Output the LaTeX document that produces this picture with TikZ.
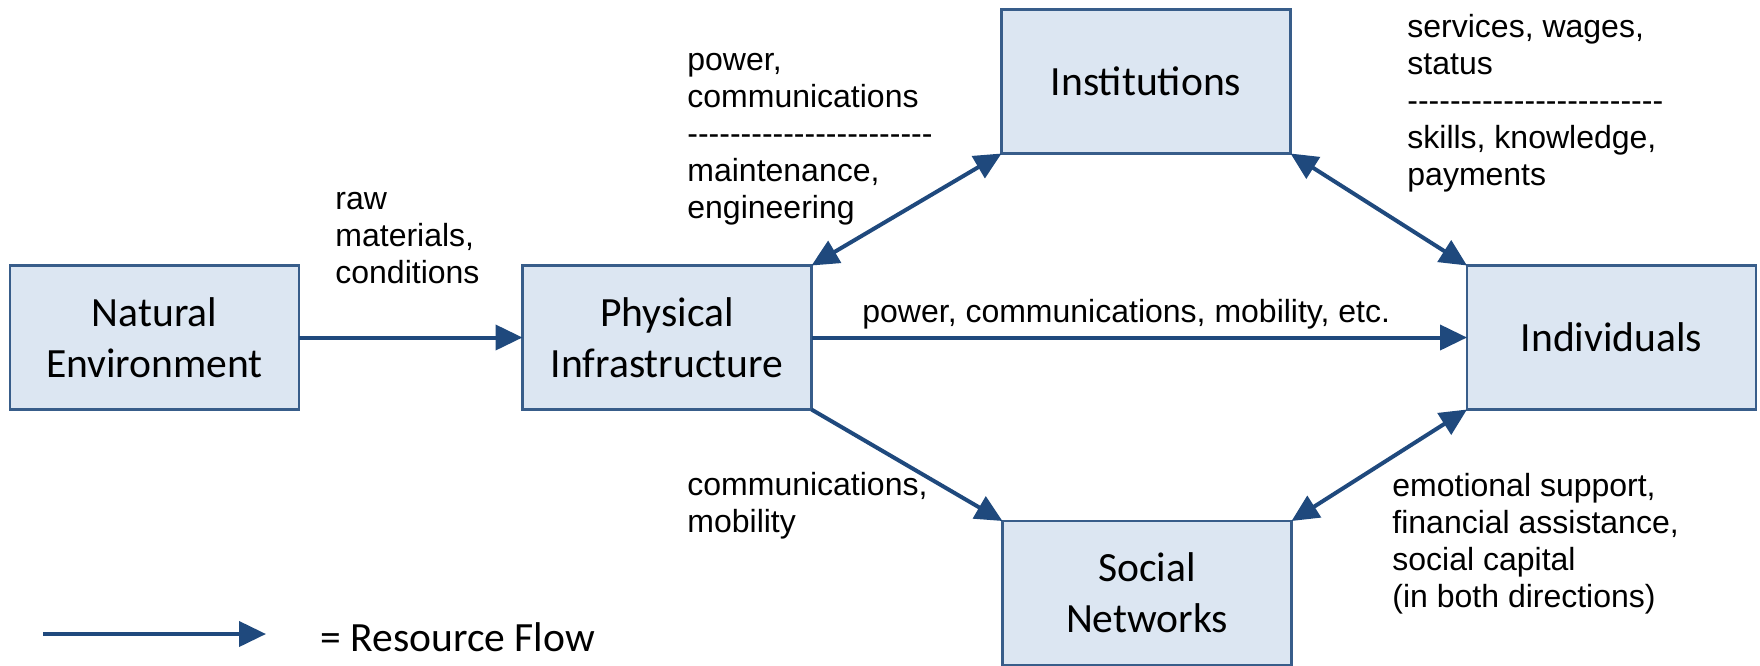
\documentclass[tikz,border=0pt]{standalone}
\usepackage{fontspec}
\setmainfont{Liberation Sans}
\newfontfamily\boxfont{Carlito}
\usetikzlibrary{arrows.meta}

\definecolor{boxfill}{HTML}{DCE6F2}
\definecolor{boxline}{HTML}{385D8A}
\definecolor{flowcol}{HTML}{1F497D}

% a row of separate hyphens (kerns keep them from joining into dashes)
\newcommand{\hyphenrow}[1]{\foreach \k in {1,...,#1}{-\kern0pt}}

\tikzset{
  stage/.style={draw=boxline, line width=1.1pt, fill=boxfill,
    minimum width=144.5pt, minimum height=72pt, inner sep=0pt, outer sep=0pt,
    align=center, font=\boxfont\fontsize{20.8}{25.5}\selectfont},
  flow/.style={draw=flowcol, line width=2pt,
    -{Triangle[length=13.5pt,width=12.5pt]}},
  flowboth/.style={draw=flowcol, line width=2pt,
    {Triangle[length=13.5pt,width=12.5pt]}-{Triangle[length=13.5pt,width=12.5pt]}},
  % multi-line labels are placed by the baseline of their last line
  lbl/.style={anchor=base west, inner sep=0pt, align=left,
    font=\fontsize{16}{18.5}\selectfont},
  keytext/.style={anchor=base west, inner sep=0pt,
    font=\boxfont\fontsize{20.8}{25.5}\selectfont}
}

\begin{document}
\begin{tikzpicture}[x=0.5pt, y=-0.5pt]
  \useasboundingbox (0,0) rectangle (1760,665);

  % stages of the system
  \node[stage] (nat)    at (154.5,337.5) {Natural\\Environment};
  \node[stage] (phys)   at (667,337.5)   {Physical\\Infrastructure};
  \node[stage] (inst)   at (1146,81.5)   {Institutions};
  \node[stage] (indiv)  at (1611.5,337.5) {Individuals};
  \node[stage] (social) at (1147,593)    {Social\\Networks};

  % resource flows between stages
  \draw[flow] (nat) -- (phys);
  \draw[flow] (phys) -- (indiv);
  \draw[flowboth] (phys.north east) -- (inst.south west);
  \draw[flowboth] (inst.south east) -- (indiv.north west);
  \draw[flow] (phys.south east) -- (social.north west);
  \draw[flowboth] (social.north east) -- (indiv.south west);

  % flow labels
  \node[lbl] (lraw) at (335,283) {raw\\materials,\\conditions};
  \node[lbl] (lpi) at (687,218)
    {power,\\communications\\\hyphenrow{23}\\maintenance,\\engineering};
  \node[lbl] (lii) at (1407,185)
    {services, wages,\\status\\\hyphenrow{24}\\skills, knowledge,\\payments};
  \node[lbl] (lpind) at (862,322) {power, communications, mobility, etc.};
  \node[lbl] (lps) at (687,532) {communications,\\mobility};
  \node[lbl] (lsi) at (1392,607)
    {emotional support,\\financial assistance,\\social capital\\(in both directions)};

  % key
  \coordinate (keyA) at (43,634);
  \coordinate (keyB) at (266,634);
  \draw[flow] (keyA) -- (keyB);
  \node[keytext] (keylbl) at (320,651) {= Resource Flow};
\end{tikzpicture}
\end{document}
